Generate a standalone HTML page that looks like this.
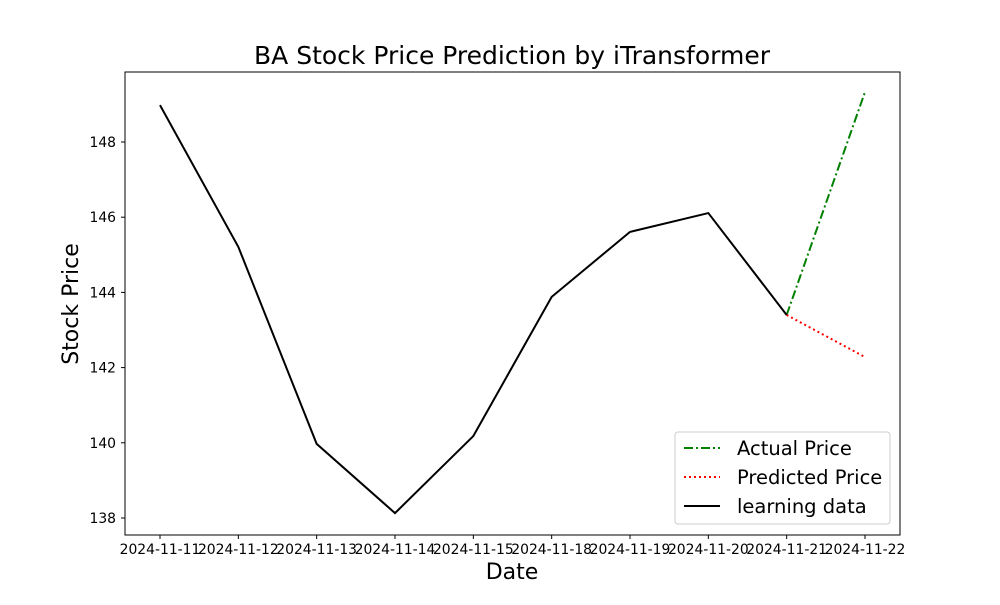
<!DOCTYPE html>
<html><head><meta charset="utf-8"><style>
body{margin:0;background:#fff;}
svg text{font-family:"DejaVu Sans","Liberation Sans",sans-serif;}
</style></head><body>
<svg id="chart" width="1000" height="600" xmlns="http://www.w3.org/2000/svg">
<rect width="1000" height="600" fill="#fff"/>
<text x="512" y="64" font-size="25" text-anchor="middle">BA Stock Price Prediction by iTransformer</text>
<g id="plot"></g>
<rect x="125" y="72" width="775" height="463" fill="none" stroke="#000" stroke-width="1"/>
<text x="512" y="579" font-size="22" text-anchor="middle">Date</text>
<text x="78" y="304" font-size="22" text-anchor="middle" transform="rotate(-90 78 304)">Stock Price</text>
<g>
<rect x="675" y="432" width="215" height="92" rx="3" fill="#fff" stroke="#ccc"/>
<line x1="684" y1="448" x2="720" y2="448" stroke="green" stroke-width="2" stroke-dasharray="9,3,2,3"/>
<text x="737" y="455" font-size="19.5">Actual Price</text>
<line x1="684" y1="477" x2="720" y2="477" stroke="red" stroke-width="2" stroke-dasharray="2,3"/>
<text x="737" y="484" font-size="19.5">Predicted Price</text>
<line x1="684" y1="506" x2="720" y2="506" stroke="#000" stroke-width="2"/>
<text x="737" y="513" font-size="19.5">learning data</text>
</g>
</svg>
<script>
const dates=["2024-11-11","2024-11-12","2024-11-13","2024-11-14","2024-11-15","2024-11-18","2024-11-19","2024-11-20","2024-11-21","2024-11-22"];
const learning=[148.98,145.21,139.97,138.13,140.18,143.88,145.61,146.11,143.40];
const actual=[143.40,149.33];
const predicted=[143.40,142.28];
const yTicks=[138,140,142,144,146,148];
const NS="http://www.w3.org/2000/svg";
const x=i=>160+i*(705/9);
const y=v=>142+(148-v)*37.6;
const g=document.getElementById('plot');
function mk(t,a){const e=document.createElementNS(NS,t);for(const k in a)e.setAttribute(k,a[k]);g.appendChild(e);return e;}
dates.forEach((d,i)=>{
 const l=mk('line',{x1:x(i),x2:x(i),y1:535,y2:539,stroke:'#000'});
 
 
 const t=mk('text',{x:x(i),y:554,'font-size':13.9,'text-anchor':'middle'});t.textContent=d;
 
 
});
yTicks.forEach(v=>{
 const l=mk('line',{x1:121,x2:125,y1:y(v),y2:y(v),stroke:'#000'});
 
 
 const t=mk('text',{x:116,y:y(v)+5,'font-size':13.9,'text-anchor':'end'});t.textContent=v;
 
 
});
const off=learning.length-1;
const a=mk('polyline',{points:actual.map((v,i)=>x(off+i)+','+y(v)).join(' '),fill:'none',stroke:'green','stroke-width':2,'stroke-dasharray':'9,3,2,3'});


const p=mk('polyline',{points:predicted.map((v,i)=>x(off+i)+','+y(v)).join(' '),fill:'none',stroke:'red','stroke-width':2,'stroke-dasharray':'2,3'});


const L=mk('polyline',{points:learning.map((v,i)=>x(i)+','+y(v)).join(' '),fill:'none',stroke:'#000','stroke-width':2});


</script>
</body></html>
